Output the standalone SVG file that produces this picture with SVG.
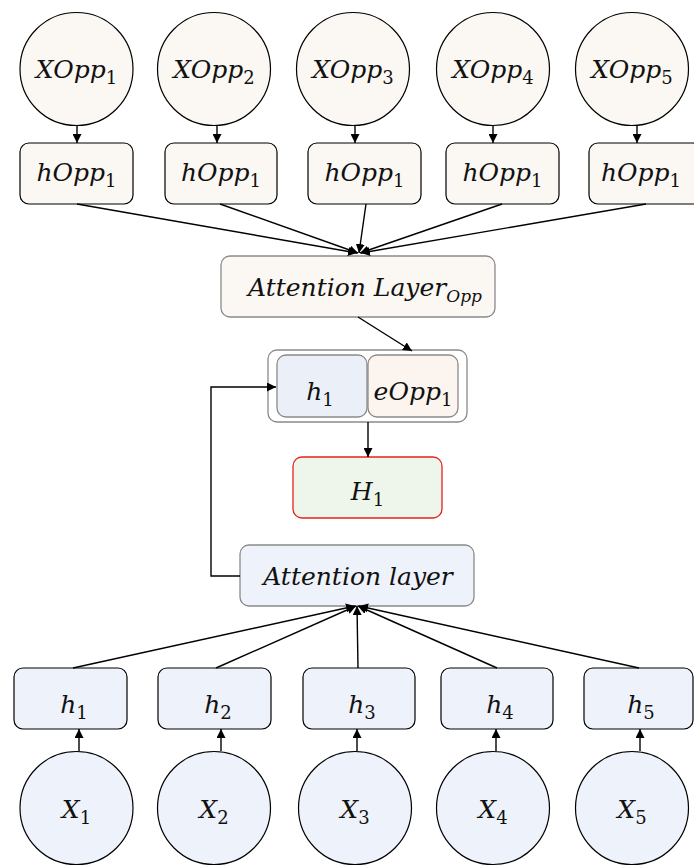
<svg xmlns="http://www.w3.org/2000/svg" width="694" height="866" viewBox="0 0 694 866">
<defs>
<marker id="ah" viewBox="0 0 10 10" refX="10" refY="5" markerWidth="9" markerHeight="9" markerUnits="userSpaceOnUse" orient="auto">
<path d="M0,0 L10,5 L0,10 z" fill="#000"/>
</marker>
</defs>
<style>
.opp{fill:#FBF7F2;stroke:#000;stroke-width:1.2}
.inp{fill:#EEF2FA;stroke:#000;stroke-width:1.2}
.gray{stroke:#8a8a8a;stroke-width:1.3}
.t{font-family:"DejaVu Serif","Liberation Serif",serif;font-style:italic;font-size:25px;fill:#111;text-anchor:middle}
.s{font-style:normal;font-size:18px}
.si{font-size:17px}
.c line,.c polyline{stroke:#000;stroke-width:1.4;fill:none;marker-end:url(#ah)}
</style>
<rect width="694" height="866" fill="#fff"/>

<g id="xopp1"><circle class="opp" cx="76.5" cy="69" r="56.5"/><text class="t" x="76.5" y="78">XOpp<tspan class="s" dy="6">1</tspan></text></g>
<g id="xopp2"><circle class="opp" cx="214" cy="69" r="56.5"/><text class="t" x="214" y="78">XOpp<tspan class="s" dy="6">2</tspan></text></g>
<g id="xopp3"><circle class="opp" cx="353" cy="69" r="56.5"/><text class="t" x="353" y="78">XOpp<tspan class="s" dy="6">3</tspan></text></g>
<g id="xopp4"><circle class="opp" cx="493" cy="69" r="56.5"/><text class="t" x="493" y="78">XOpp<tspan class="s" dy="6">4</tspan></text></g>
<g id="xopp5"><circle class="opp" cx="632" cy="69" r="56.5"/><text class="t" x="632" y="78">XOpp<tspan class="s" dy="6">5</tspan></text></g>

<g id="hopp1"><rect class="opp" x="20" y="143" width="113" height="61" rx="9"/><text class="t" x="76.5" y="181">hOpp<tspan class="s" dy="6">1</tspan></text></g>
<g id="hopp2"><rect class="opp" x="165" y="143" width="112" height="61" rx="9"/><text class="t" x="221" y="181">hOpp<tspan class="s" dy="6">1</tspan></text></g>
<g id="hopp3"><rect class="opp" x="308" y="143" width="113" height="61" rx="9"/><text class="t" x="364.5" y="181">hOpp<tspan class="s" dy="6">1</tspan></text></g>
<g id="hopp4"><rect class="opp" x="446" y="143" width="113" height="61" rx="9"/><text class="t" x="502.5" y="181">hOpp<tspan class="s" dy="6">1</tspan></text></g>
<g id="hopp5"><rect class="opp" x="589" y="143" width="113" height="61" rx="9"/><text class="t" x="641" y="181">hOpp<tspan class="s" dy="6">1</tspan></text></g>

<g id="attopp"><rect class="opp gray" x="221" y="256" width="274" height="61" rx="9"/><text class="t" x="365" y="296">Attention Layer<tspan class="si" dy="6">Opp</tspan></text></g>

<g id="concat">
<rect x="268" y="350" width="199" height="72" rx="9" fill="#fff" class="gray"/>
<rect x="277" y="355" width="90" height="62" rx="9" fill="#EBEFF7" class="gray"/>
<rect x="368" y="355" width="90" height="62" rx="9" fill="#FCF4EE" class="gray"/>
<text class="t" x="320" y="400">h<tspan class="s" dy="6">1</tspan></text>
<text class="t" x="413" y="400">eOpp<tspan class="s" dy="6">1</tspan></text>
</g>

<g id="H1"><rect x="293" y="457" width="149" height="61" rx="9" fill="#EEF5EA" stroke="#E8201E" stroke-width="1.3"/><text class="t" x="367.5" y="500">H<tspan class="s" dy="6">1</tspan></text></g>

<g id="att"><rect class="inp gray" x="240" y="545" width="234" height="61" rx="9"/><text class="t" x="358" y="585">Attention layer</text></g>

<g id="h1"><rect class="inp" x="14" y="668" width="113" height="61" rx="9"/><text class="t" x="74" y="713">h<tspan class="s" dy="6">1</tspan></text></g>
<g id="h2"><rect class="inp" x="158" y="668" width="113" height="61" rx="9"/><text class="t" x="218" y="713">h<tspan class="s" dy="6">2</tspan></text></g>
<g id="h3"><rect class="inp" x="303" y="668" width="112" height="61" rx="9"/><text class="t" x="362" y="713">h<tspan class="s" dy="6">3</tspan></text></g>
<g id="h4"><rect class="inp" x="441" y="668" width="112" height="61" rx="9"/><text class="t" x="500" y="713">h<tspan class="s" dy="6">4</tspan></text></g>
<g id="h5"><rect class="inp" x="584" y="668" width="109" height="61" rx="9"/><text class="t" x="641" y="713">h<tspan class="s" dy="6">5</tspan></text></g>

<g id="x1"><circle class="inp" cx="76.5" cy="808" r="56.5"/><text class="t" x="76.5" y="818">X<tspan class="s" dy="6">1</tspan></text></g>
<g id="x2"><circle class="inp" cx="214" cy="808" r="56.5"/><text class="t" x="214" y="818">X<tspan class="s" dy="6">2</tspan></text></g>
<g id="x3"><circle class="inp" cx="355" cy="808" r="56.5"/><text class="t" x="355" y="818">X<tspan class="s" dy="6">3</tspan></text></g>
<g id="x4"><circle class="inp" cx="493" cy="808" r="56.5"/><text class="t" x="493" y="818">X<tspan class="s" dy="6">4</tspan></text></g>
<g id="x5"><circle class="inp" cx="632" cy="808" r="56.5"/><text class="t" x="632" y="818">X<tspan class="s" dy="6">5</tspan></text></g>

<g id="connectors" class="c">
<line x1="77" y1="125" x2="77" y2="143"/>
<line x1="217" y1="125" x2="217" y2="143"/>
<line x1="355" y1="125" x2="355" y2="143"/>
<line x1="493" y1="125" x2="493" y2="143"/>
<line x1="637" y1="125" x2="637" y2="143"/>

<line x1="77" y1="204" x2="357" y2="253"/>
<line x1="220" y1="204" x2="358" y2="253"/>
<line x1="366" y1="204" x2="359" y2="253"/>
<line x1="502" y1="204" x2="360" y2="253"/>
<line x1="646" y1="204" x2="361" y2="253"/>

<line x1="358" y1="317" x2="412" y2="351"/>
<line x1="368" y1="422" x2="368" y2="457"/>
<polyline points="240,576 211,576 211,387 276,387"/>

<line x1="79" y1="751" x2="79" y2="729"/>
<line x1="221" y1="751" x2="221" y2="729"/>
<line x1="357" y1="751" x2="357" y2="729"/>
<line x1="496" y1="751" x2="496" y2="729"/>
<line x1="640" y1="751" x2="640" y2="729"/>

<line x1="73" y1="668" x2="355" y2="606"/>
<line x1="216" y1="668" x2="356" y2="606"/>
<line x1="358" y1="668" x2="357" y2="606"/>
<line x1="497" y1="668" x2="358" y2="606"/>
<line x1="639" y1="668" x2="359" y2="606"/>
</g>
</svg>
